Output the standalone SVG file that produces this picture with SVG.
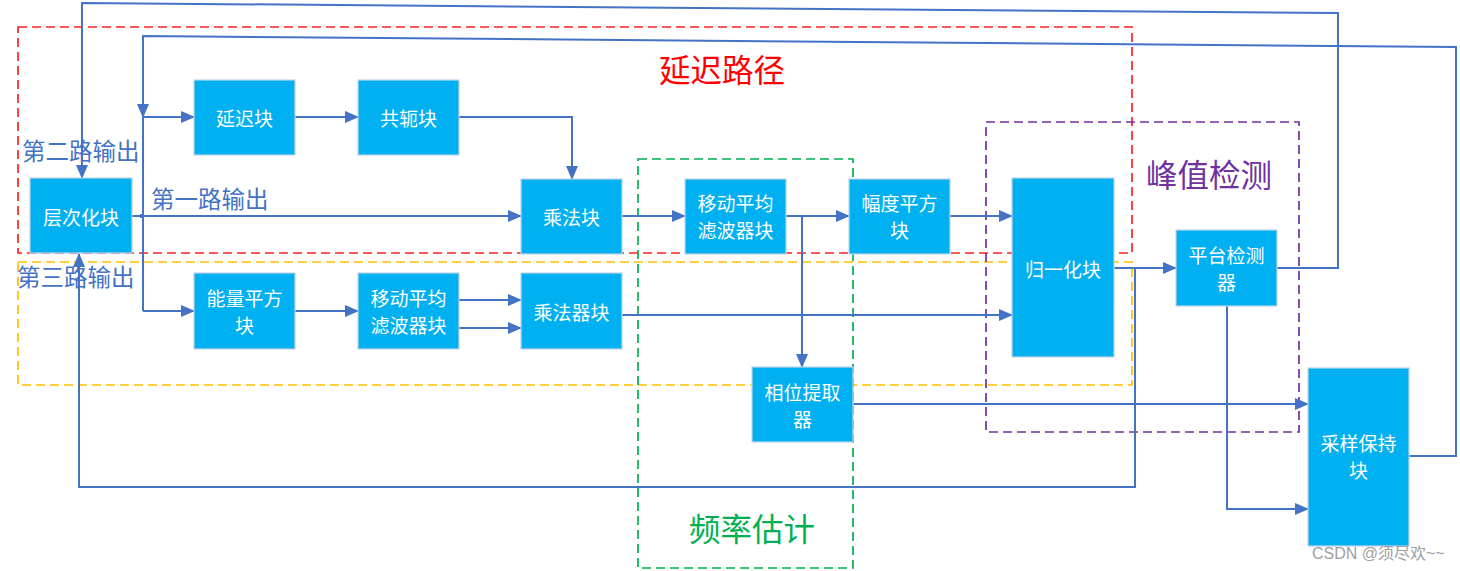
<svg xmlns="http://www.w3.org/2000/svg" width="1460" height="571" viewBox="0 0 1460 571">
<style>
.box{fill:#00B0F0;stroke:#BFD4E8;stroke-width:1.2}
.bt{fill:#fff;font-family:"Noto Sans CJK SC","Noto Sans",sans-serif;font-size:19px;text-anchor:middle;dominant-baseline:central}
.ln{fill:none;stroke:#4472C4;stroke-width:2}
.arr{marker-end:url(#ah)}
.lbl{fill:#4472C4;font-family:"Noto Sans CJK SC","Noto Sans",sans-serif;font-size:23.5px;dominant-baseline:central}
.big{font-family:"Noto Sans CJK SC","Noto Sans",sans-serif;font-size:31.5px;text-anchor:middle;dominant-baseline:central}
.dash{fill:none;stroke-width:1.7;stroke-dasharray:9 5}
</style>
<defs>
<marker id="ah" markerUnits="userSpaceOnUse" markerWidth="14" markerHeight="12" refX="13" refY="6" orient="auto">
<path d="M0,0 L14,6 L0,12 Z" fill="#4472C4"/>
</marker>
</defs>
<rect width="1460" height="571" fill="#fff"/>

<g id="groups">
<rect class="dash" x="18" y="27" width="1114" height="226" stroke="#FF2020"/>
<rect class="dash" x="18" y="262" width="1114" height="123" stroke="#FFC000"/>
<rect class="dash" x="638" y="159" width="215" height="409" stroke="#00B050"/>
<rect class="dash" x="986" y="122" width="313" height="310" stroke="#7030A0"/>
<text class="big" x="722" y="68" fill="#FF0000">延迟路径</text>
<text class="big" x="1209" y="173" fill="#7030A0">峰值检测</text>
<text class="big" x="752" y="527" fill="#00B050">频率估计</text>
</g>

<g id="connectors">
<path class="ln arr" d="M132,216 L521,216"/>
<rect x="140" y="214" width="4" height="4" fill="#4472C4"/>
<path class="ln" d="M143,117 L143,311"/>
<path class="ln arr" d="M143,117 L194,117"/>
<path class="ln arr" d="M143,311 L194,311"/>
<path class="ln arr" d="M1409,456 L1456,456 L1456,47 L143,36 L143,117"/>
<path class="ln arr" d="M1277,268 L1338,268 L1338,13 L82,3 L82,178"/>
<path class="ln arr" d="M295,117 L358,117"/>
<path class="ln arr" d="M459,117 L572,117 L572,179"/>
<path class="ln arr" d="M622,216 L685,216"/>
<path class="ln arr" d="M786,216 L849,216"/>
<path class="ln arr" d="M802,216 L802,367"/>
<path class="ln arr" d="M950,216 L1012,216"/>
<path class="ln arr" d="M1114,268 L1176,268"/>
<path class="ln arr" d="M1135,268 L1135,487 L79,487 L79,254"/>
<path class="ln arr" d="M295,311 L358,311"/>
<path class="ln arr" d="M459,300 L521,300"/>
<path class="ln arr" d="M459,328 L521,328"/>
<path class="ln arr" d="M622,315 L1012,315"/>
<path class="ln arr" d="M853,404 L1308,404"/>
<path class="ln arr" d="M1227,306 L1227,509 L1308,509"/>
</g>

<g id="n-cengci"><rect class="box" x="30" y="178" width="102" height="75"/><text class="bt" x="81" y="216">层次化块</text></g>
<g id="n-yanchi"><rect class="box" x="194" y="80" width="101" height="75"/><text class="bt" x="244.5" y="117">延迟块</text></g>
<g id="n-gonge"><rect class="box" x="358" y="80" width="101" height="75"/><text class="bt" x="408.5" y="117">共轭块</text></g>
<g id="n-chengfa"><rect class="box" x="521" y="179" width="101" height="75"/><text class="bt" x="571.5" y="216">乘法块</text></g>
<g id="n-mavg1"><rect class="box" x="685" y="179" width="101" height="75"/><text class="bt" x="735.5" y="202">移动平均</text><text class="bt" x="735.5" y="229">滤波器块</text></g>
<g id="n-fudu"><rect class="box" x="849" y="179" width="101" height="75"/><text class="bt" x="899.5" y="202">幅度平方</text><text class="bt" x="899.5" y="229">块</text></g>
<g id="n-nengliang"><rect class="box" x="194" y="273" width="101" height="76"/><text class="bt" x="244.5" y="297">能量平方</text><text class="bt" x="244.5" y="324">块</text></g>
<g id="n-mavg2"><rect class="box" x="358" y="273" width="101" height="76"/><text class="bt" x="408.5" y="297">移动平均</text><text class="bt" x="408.5" y="324">滤波器块</text></g>
<g id="n-chengfaqi"><rect class="box" x="521" y="273" width="101" height="76"/><text class="bt" x="571.5" y="311">乘法器块</text></g>
<g id="n-xiangwei"><rect class="box" x="752" y="367" width="101" height="75"/><text class="bt" x="802.5" y="391">相位提取</text><text class="bt" x="802.5" y="418">器</text></g>
<g id="n-guiyi"><rect class="box" x="1012" y="178" width="102" height="179"/><text class="bt" x="1063" y="268">归一化块</text></g>
<g id="n-pingtai"><rect class="box" x="1176" y="230" width="101" height="76"/><text class="bt" x="1226.5" y="254">平台检测</text><text class="bt" x="1226.5" y="281">器</text></g>
<g id="n-caiyang"><rect class="box" x="1308" y="368" width="101" height="178"/><text class="bt" x="1358.5" y="442">采样保持</text><text class="bt" x="1358.5" y="469">块</text></g>

<g id="labels">
<text class="lbl" x="22" y="150">第二路输出</text>
<text class="lbl" x="151" y="198">第一路输出</text>
<text class="lbl" x="17" y="276">第三路输出</text>
<text x="1312" y="559" fill="#A0A0A0" font-family="'Liberation Sans','Noto Sans CJK SC',sans-serif" font-size="16">CSDN @须尽欢~~</text>
</g>
</svg>
